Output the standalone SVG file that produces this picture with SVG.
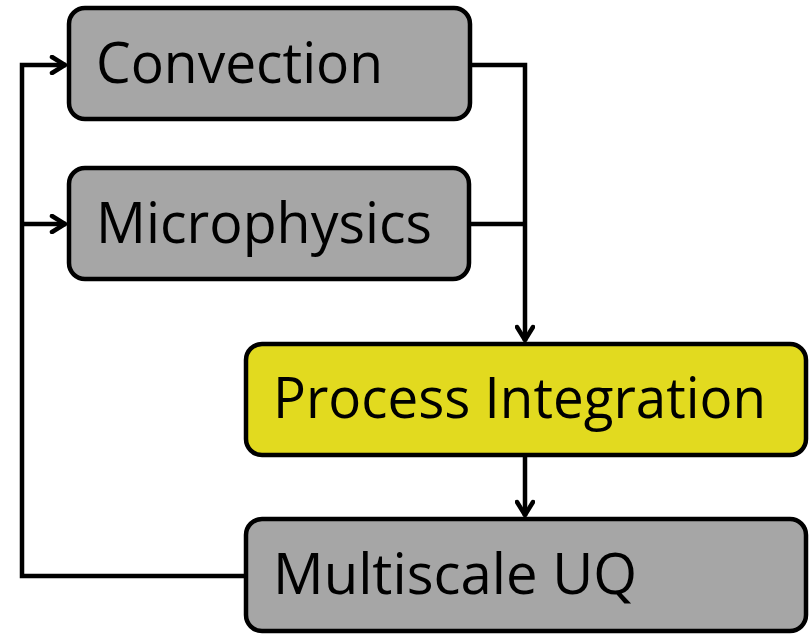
<svg xmlns="http://www.w3.org/2000/svg" width="809" height="636" viewBox="0 0 809 636">
<defs>
<style>
.box{stroke:#000;stroke-width:4.5}
.gray{fill:#A6A6A6}
.yel{fill:#E2DA1F}
.lbl{font-family:"Open Sans","Liberation Sans",sans-serif;font-size:56px;fill:#000}
.con{fill:none;stroke:#000;stroke-width:4.5;stroke-linejoin:miter}
</style>
<marker id="ah" viewBox="0 0 20 20" refX="18" refY="10" markerWidth="20" markerHeight="20" markerUnits="userSpaceOnUse" orient="auto">
<polyline points="4,2 17,10 4,18" fill="none" stroke="#000" stroke-width="4.5" stroke-linecap="round" stroke-linejoin="miter"/>
</marker>
</defs>
<rect width="809" height="636" fill="#fff"/>
<g id="connectors">
<polyline class="con" points="470,65 525,65 525,341" marker-end="url(#ah)"/>
<polyline class="con" points="470,224 525,224"/>
<polyline class="con" points="525,456 525,516" marker-end="url(#ah)"/>
<polyline class="con" points="246,576 22,576 22,65 66,65" marker-end="url(#ah)"/>
<polyline class="con" points="22,224 66,224" marker-end="url(#ah)"/>
</g>
<g id="convection">
<rect class="box gray" x="69" y="8" width="401" height="111" rx="16"/>
<text class="lbl" x="96" y="83" textLength="287" lengthAdjust="spacingAndGlyphs">Convection</text>
</g>
<g id="microphysics">
<rect class="box gray" x="69" y="168" width="400" height="111" rx="16"/>
<text class="lbl" x="96" y="243" textLength="336" lengthAdjust="spacingAndGlyphs">Microphysics</text>
</g>
<g id="process-integration">
<rect class="box yel" x="246" y="344" width="560" height="111" rx="16"/>
<text class="lbl" x="273" y="418" textLength="493" lengthAdjust="spacingAndGlyphs">Process Integration</text>
</g>
<g id="multiscale-uq">
<rect class="box gray" x="246" y="519" width="560" height="112" rx="16"/>
<text class="lbl" x="273" y="594" textLength="364" lengthAdjust="spacingAndGlyphs">Multiscale UQ</text>
</g>
</svg>
